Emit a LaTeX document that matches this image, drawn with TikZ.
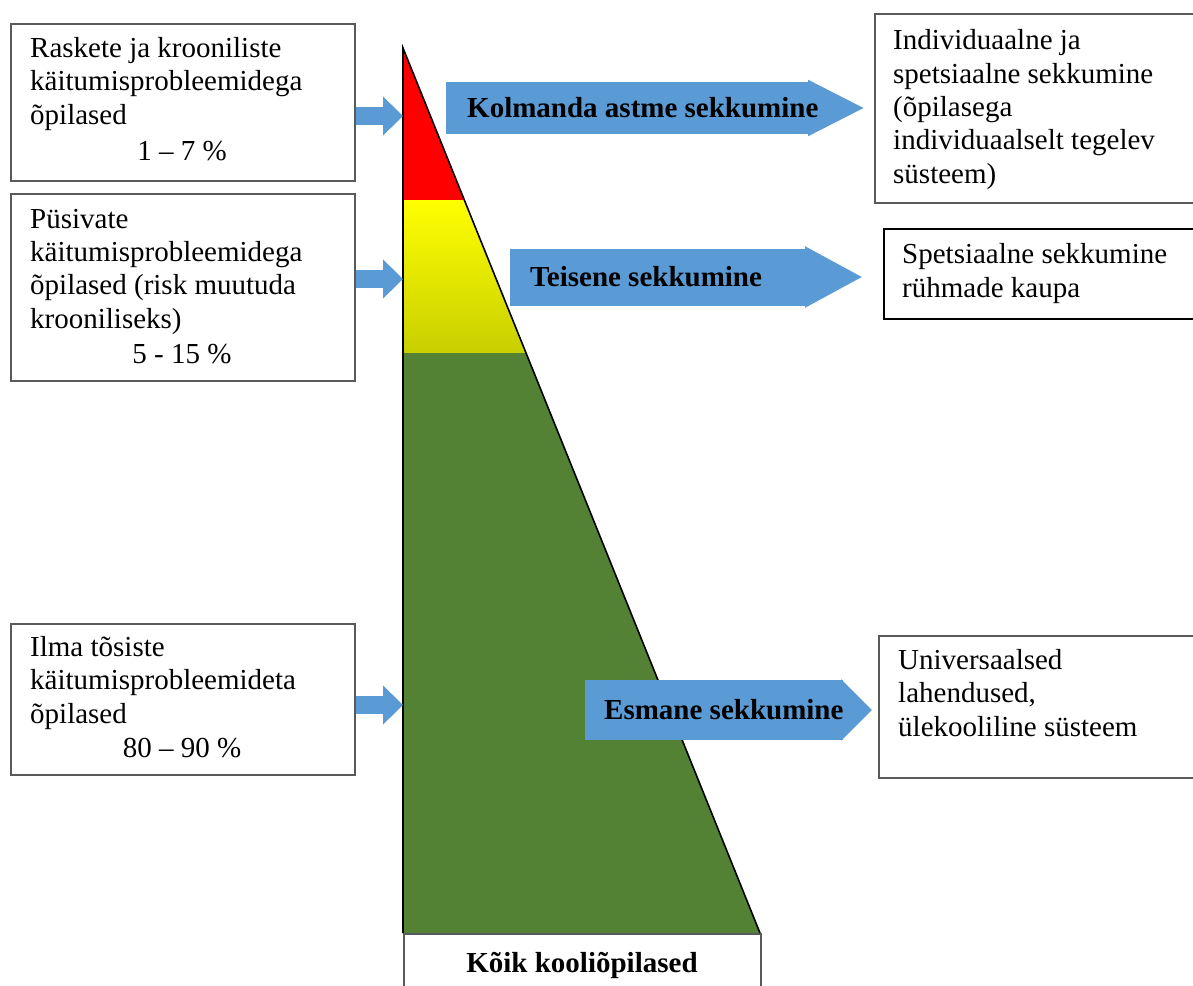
\documentclass[tikz,border=0pt]{standalone}
\usepackage{fontspec}
\setmainfont{Liberation Serif}
\usetikzlibrary{arrows.meta,calc}
\definecolor{ablue}{HTML}{5B9BD5}
\definecolor{tgreen}{HTML}{548235}
\definecolor{tolive}{HTML}{C8CF00}
\definecolor{tred}{HTML}{FF0000}
\definecolor{tyellow}{HTML}{FFFF00}
\definecolor{bordergray}{HTML}{5A5A5A}
\begin{document}
\begin{tikzpicture}[x=1pt,y=-1pt,
  box/.style={draw=bordergray, line width=1.5pt, fill=white, inner sep=0pt, anchor=north west},
  txt/.style={inner sep=0pt, font=\fontsize{29}{33.3}\selectfont, align=left, anchor=base west},
  pct/.style={inner sep=0pt, font=\fontsize{29}{33.3}\selectfont, anchor=base},
  lbl/.style={inner sep=0pt, font=\fontsize{29}{33.3}\selectfont\bfseries, anchor=base west},
  smallarr/.style={draw=ablue, line width=18pt, -{Triangle[length=20pt,width=38pt]}},
  bigarr/.style 2 args={draw=ablue, line width=#1, -{Triangle[length=#2,width=#1]}},
]
\useasboundingbox (0,0) rectangle (1193,985);

% triangle
\coordinate (apex) at (403,48);
\coordinate (br) at (760,933);
\coordinate (bl) at (403,933);
\coordinate (ry) at ($(apex)!0.17175!(br)$);
\coordinate (yg) at ($(apex)!0.34463!(br)$);
\fill[tred] (apex) -- (ry) -- (ry -| apex) -- cycle;
\shade[top color=tyellow, bottom color=tolive] (ry -| apex) -- (ry) -- (yg) -- (yg -| apex) -- cycle;
\fill[tgreen] (yg -| apex) -- (yg) -- (br) -- (bl) -- cycle;

% bottom box
\node[box, fill=none, minimum width=357pt, minimum height=70pt] (kb) at (403,933) {};
\draw[line width=1.6pt] (bl) -- (apex) -- (br);
\node[lbl, anchor=base] (kt) at (582,972) {Kõik kooliõpilased};

% left boxes
\node[box, minimum width=344pt, minimum height=157pt] (b1) at (10,23) {};
\node[box, minimum width=344pt, minimum height=187pt] (b2) at (10,193) {};
\node[box, minimum width=344pt, minimum height=151pt] (b3) at (10,623) {};

% (base anchor = baseline of the last line)
\node[txt] (t1) at (30,124) {Raskete ja krooniliste\\käitumisprobleemidega\\õpilased};
\node[pct] (p1) at (182,160) {1 – 7 \%};
\node[txt] (t2) at (30,328) {Püsivate\\käitumisprobleemidega\\õpilased (risk muutuda\\krooniliseks)};
\node[pct] (p2) at (182,363) {5 - 15 \%};
\node[txt] (t3) at (30,723) {Ilma tõsiste\\käitumisprobleemideta\\õpilased};
\node[pct] (p3) at (182,757) {80 – 90 \%};

% small arrows
\coordinate (c1) at (403,116);
\coordinate (c2) at (403,279);
\coordinate (c3) at (403,705);
\draw[smallarr] (b1.east |- c1) -- (c1);
\draw[smallarr] (b2.east |- c2) -- (c2);
\draw[smallarr] (b3.east |- c3) -- (c3);

% right boxes
\node[box, minimum width=330pt, minimum height=189pt] (r1) at (874,13) {};
\node[box, draw=black, minimum width=320pt, minimum height=90pt] (r2) at (883,228) {};
\node[box, minimum width=325pt, minimum height=142pt] (r3) at (878,635) {};

\node[txt] (tr1) at (893,183) {Individuaalne ja\\spetsiaalne sekkumine\\(õpilasega\\individuaalselt tegelev\\süsteem)};
\node[txt] (tr2) at (902,297) {Spetsiaalne sekkumine\\rühmade kaupa};
\node[txt] (tr3) at (898,736) {Universaalsed\\lahendused,\\ülekooliline süsteem};

% big arrows
\coordinate (k3s) at (446,108);
\coordinate (k3e) at (865,108);
\coordinate (k2s) at (510,277);
\coordinate (k2e) at (863,277);
\coordinate (k1s) at (585,710);
\coordinate (k1e) at (872,710);
\draw[bigarr={52pt}{57pt}] (k3s) -- (k3e);
\draw[bigarr={57pt}{58pt}] (k2s) -- (k2e);
\draw[bigarr={60pt}{31pt}] (k1s) -- (k1e);
\node[lbl] (l3) at (467,117) {Kolmanda astme sekkumine};
\node[lbl] (l2) at (530,286) {Teisene sekkumine};
\node[lbl] (l1) at (604,719) {Esmane sekkumine};
\end{tikzpicture}
\end{document}
